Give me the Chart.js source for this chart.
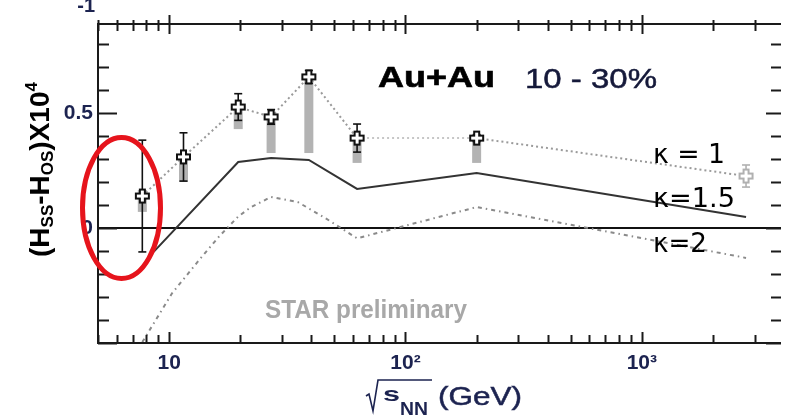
<!DOCTYPE html>
<html>
<head>
<meta charset="utf-8">
<script src="https://cdn.jsdelivr.net/npm/chart.js@4.4.0/dist/chart.umd.min.js"></script>
<style>
  html, body { margin: 0; padding: 0; background: #fff; }
</style>
</head>
<body>
<canvas id="chart" width="790" height="417"></canvas>
<script>
// measured points (sqrt(s_NN) in GeV)
var energies = [7.7, 11.5, 19.6, 27, 39, 62.4, 200, 2760];
var values   = [0.139, 0.309, 0.526, 0.483, 0.657, 0.391, 0.391, 0.226];
var statErr  = [0.243, 0.105, 0.058, 0.032, 0.028, 0.061, 0.015, 0.048];
var sysLow   = [0.07, 0.20, 0.43, 0.326, 0.326, 0.283, 0.283, null];
var sysHigh  = [0.165, 0.309, 0.526, 0.483, 0.657, 0.391, 0.391, null];

// model curves
var kappa15X = [8.6, 19.6, 27, 39, 62.4, 200, 2760];
var kappa15Y = [-0.104, 0.287, 0.304, 0.296, 0.17, 0.239, 0.048];
var kappa2X  = [7.7, 10.3, 13.4, 16.2, 19.6, 22.2, 27, 35, 45, 55, 62.4, 200, 2760];
var kappa2Y  = [-0.496, -0.283, -0.139, -0.039, 0.05, 0.091, 0.135, 0.113, 0.048, -0.009, -0.045, 0.091, -0.13];

// tick labels
var xLabels = [10, 100, 1000];
var xLabelText = ['10', '10\u00b2', '10\u00b3'];
var yLabels = [0, 0.5];

var navy = '#1c2350';

function makeCross(stroke) {
    var c = document.createElement('canvas');
    c.width = 17; c.height = 17;
    var g = c.getContext('2d');
    var o = 8.5, L = 6.5, h = 2.5;
    g.beginPath();
    g.moveTo(o - h, o - L); g.lineTo(o + h, o - L); g.lineTo(o + h, o - h);
    g.lineTo(o + L, o - h); g.lineTo(o + L, o + h); g.lineTo(o + h, o + h);
    g.lineTo(o + h, o + L); g.lineTo(o - h, o + L); g.lineTo(o - h, o + h);
    g.lineTo(o - L, o + h); g.lineTo(o - L, o - h); g.lineTo(o - h, o - h);
    g.closePath();
    g.fillStyle = '#fff';
    g.fill();
    g.lineWidth = 2;
    g.strokeStyle = stroke;
    g.stroke();
    return c;
}
var crossBlack = makeCross('#111');
var crossGrey = makeCross('#b0b0b0');

// draw text squeezed/stretched to a width, optional thin outline to thicken it
function fitText(ctx, txt, x, y, font, color, w, thick) {
    ctx.save();
    ctx.font = font;
    ctx.fillStyle = color;
    ctx.textBaseline = 'alphabetic';
    ctx.textAlign = 'left';
    var m = ctx.measureText(txt).width;
    ctx.translate(x, y);
    ctx.scale(w / m, 1);
    ctx.fillText(txt, 0, 0);
    if (thick) {
        ctx.strokeStyle = color;
        ctx.lineWidth = thick;
        ctx.strokeText(txt, 0, 0);
    }
    ctx.restore();
}

function line(ctx, x1, y1, x2, y2) {
    ctx.beginPath();
    ctx.moveTo(x1, y1);
    ctx.lineTo(x2, y2);
    ctx.stroke();
}

var decor = {
    id: 'decor',
    beforeDatasetsDraw: function (chart) {
        var ctx = chart.ctx, xs = chart.scales.x, ys = chart.scales.y, a = chart.chartArea;
        ctx.save();
        // zero line
        ctx.strokeStyle = '#111';
        ctx.lineWidth = 2;
        var y0 = ys.getPixelForValue(0);
        line(ctx, a.left, y0, a.right, y0);

        // systematic bars
        ctx.fillStyle = '#b3b3b3';
        for (var i = 0; i < energies.length; i++) {
            if (sysLow[i] == null) continue;
            var x = xs.getPixelForValue(energies[i]);
            var y1 = ys.getPixelForValue(sysHigh[i]);
            var y2 = ys.getPixelForValue(sysLow[i]);
            ctx.fillRect(x - 4.5, y1, 9, y2 - y1);
        }
        // statistical error bars
        ctx.lineWidth = 1.6;
        for (var i = 0; i < energies.length; i++) {
            ctx.strokeStyle = i == 7 ? '#b0b0b0' : '#111';
            var x = xs.getPixelForValue(energies[i]);
            var yt = ys.getPixelForValue(values[i] + statErr[i]);
            var yb = ys.getPixelForValue(values[i] - statErr[i]);
            line(ctx, x, yt, x, yb);
            line(ctx, x - 4, yt, x + 4, yt);
            line(ctx, x - 4, yb, x + 4, yb);
        }
        ctx.restore();
    },
    afterDraw: function (chart) {
        var ctx = chart.ctx, xs = chart.scales.x, ys = chart.scales.y, a = chart.chartArea;
        ctx.save();
        ctx.strokeStyle = '#1a1a1a';
        ctx.lineWidth = 2;
        // frame
        line(ctx, a.left, a.top, a.right, a.top);
        line(ctx, a.left, a.bottom, a.right, a.bottom);
        line(ctx, a.left, a.top - 1, a.left, a.bottom + 1);

        // x ticks (log)
        for (var d = 0; d < 4; d++) {
            for (var m = 1; m < 10; m++) {
                var v = m * Math.pow(10, d);
                if (v < xs.min || v > xs.max) continue;
                var px = Math.round(xs.getPixelForValue(v)) + 0.5;
                var major = m == 1;
                line(ctx, px, a.bottom, px, a.bottom - (major ? 11 : 8));
                if (major) line(ctx, px, a.top - 9, px, a.top + 10);
                else line(ctx, px, a.top - 4, px, a.top + 7);
            }
        }
        // y ticks
        for (var k = -5; k <= 8; k++) {
            var py = Math.round(ys.getPixelForValue(k / 10)) + 0.5;
            var major = k % 5 == 0;
            line(ctx, a.left, py, a.left + (major ? 19 : 11), py);
            line(ctx, a.right, py, a.right - (major ? 15 : 10), py);
        }

        // cut-off label above the frame
        ctx.font = 'bold 20px "Liberation Sans"';
        ctx.fillStyle = navy;
        ctx.textAlign = 'right';
        ctx.fillText('-1', 95, 12);

        // annotations
        fitText(ctx, 'Au+Au', 378, 87, 'bold 30px "Liberation Sans"', '#000', 117, 0.6);
        fitText(ctx, '10 - 30%', 525, 88, '28px "Liberation Sans"', '#15193a', 132, 0.5);
        fitText(ctx, 'STAR preliminary', 265, 318, 'bold 25px "Liberation Sans"', '#a8a8a8', 202);
        fitText(ctx, '\u03ba = 1', 653, 163, '26px "DejaVu Sans"', '#000', 72);
        fitText(ctx, '\u03ba=1.5', 653, 207, '26px "DejaVu Sans"', '#000', 82);
        fitText(ctx, '\u03ba=2', 653, 252, '26px "DejaVu Sans"', '#000', 54);

        // x axis title
        ctx.strokeStyle = navy;
        ctx.lineWidth = 1.6;
        ctx.beginPath();
        ctx.moveTo(366, 396);
        ctx.lineTo(369, 394);
        ctx.lineTo(373, 411);
        ctx.lineTo(378, 380);
        ctx.lineTo(432, 380);
        ctx.stroke();
        fitText(ctx, 's', 383, 401, 'bold 21px "Liberation Sans"', navy, 17);
        fitText(ctx, 'NN', 400, 415, 'bold 19px "Liberation Sans"', navy, 28);
        fitText(ctx, '(GeV)', 438, 405, '26px "Liberation Sans"', navy, 84, 0.5);

        // y axis title, rotated
        ctx.save();
        ctx.translate(49, 257);
        ctx.rotate(-Math.PI / 2);
        ctx.fillStyle = '#000';
        ctx.textAlign = 'left';
        var cx = 0;
        var parts = [
            ['(H', 'bold 28px "Liberation Sans"', 0],
            ['SS', 'bold 17px "Liberation Sans"', 4],
            ['-H', 'bold 28px "Liberation Sans"', 0],
            ['OS', 'bold 17px "Liberation Sans"', 4],
            [')X10', 'bold 28px "Liberation Sans"', 0],
            ['4', 'bold 17px "Liberation Sans"', -12]
        ];
        for (var p = 0; p < parts.length; p++) {
            ctx.font = parts[p][1];
            ctx.fillText(parts[p][0], cx, parts[p][2]);
            cx += ctx.measureText(parts[p][0]).width;
        }
        ctx.restore();

        // red ellipse around the lowest energy point
        ctx.strokeStyle = '#e6141c';
        ctx.lineWidth = 5;
        ctx.beginPath();
        ctx.ellipse(121.5, 208, 39, 70.5, 0, 0, Math.PI * 2);
        ctx.stroke();
        ctx.restore();
    }
};

new Chart(document.getElementById('chart'), {
    type: 'scatter',
    data: {
        datasets: [{
            label: 'data',
            data: energies.map(function (e, i) { return { x: e, y: values[i] }; }),
            showLine: true,
            borderColor: '#9a9a9a',
            borderWidth: 2,
            borderDash: [2, 3],
            segment: {
                borderColor: function (c) { return c.p0DataIndex == 5 ? '#c6c6c6' : undefined; }
            },
            pointStyle: energies.map(function (e, i) { return i == 7 ? crossGrey : crossBlack; }),
            pointRadius: 7,
            order: 0
        }, {
            label: 'kappa 1.5',
            data: kappa15X.map(function (e, i) { return { x: e, y: kappa15Y[i] }; }),
            showLine: true,
            borderColor: '#333',
            borderWidth: 2,
            pointRadius: 0,
            order: 1
        }, {
            label: 'kappa 2',
            data: kappa2X.map(function (e, i) { return { x: e, y: kappa2Y[i] }; }),
            showLine: true,
            borderColor: '#8a8a8a',
            borderWidth: 2,
            borderDash: [4, 4, 1.5, 4],
            pointRadius: 0,
            order: 2
        }]
    },
    options: {
        responsive: false,
        devicePixelRatio: 1,
        animation: false,
        events: [],
        layout: { padding: { top: 24, left: 0, right: 0, bottom: 0 } },
        plugins: { legend: { display: false }, tooltip: { enabled: false } },
        scales: {
            x: {
                type: 'logarithmic',
                min: 5,
                max: 3880,
                grid: { display: false, drawTicks: false },
                border: { display: false },
                afterFit: function (s) { s.height = 74; },
                afterBuildTicks: function (s) {
                    s.ticks = xLabels.map(function (v) { return { value: v }; });
                },
                ticks: {
                    autoSkip: false,
                    maxRotation: 0,
                    padding: 8,
                    color: navy,
                    font: { family: 'Liberation Sans', size: 21, weight: 'bold' },
                    callback: function (v) { return xLabelText[xLabels.indexOf(v)]; }
                }
            },
            y: {
                min: -0.5,
                max: 0.887,
                grid: { display: false, drawTicks: false },
                border: { display: false },
                afterFit: function (s) { s.width = 98; },
                afterBuildTicks: function (s) {
                    s.ticks = yLabels.map(function (v) { return { value: v }; });
                },
                ticks: {
                    padding: 5,
                    color: navy,
                    font: { family: 'Liberation Sans', size: 21, weight: 'bold' },
                    callback: function (v) { return String(v); }
                }
            }
        }
    },
    plugins: [decor]
});
</script>
</body>
</html>
